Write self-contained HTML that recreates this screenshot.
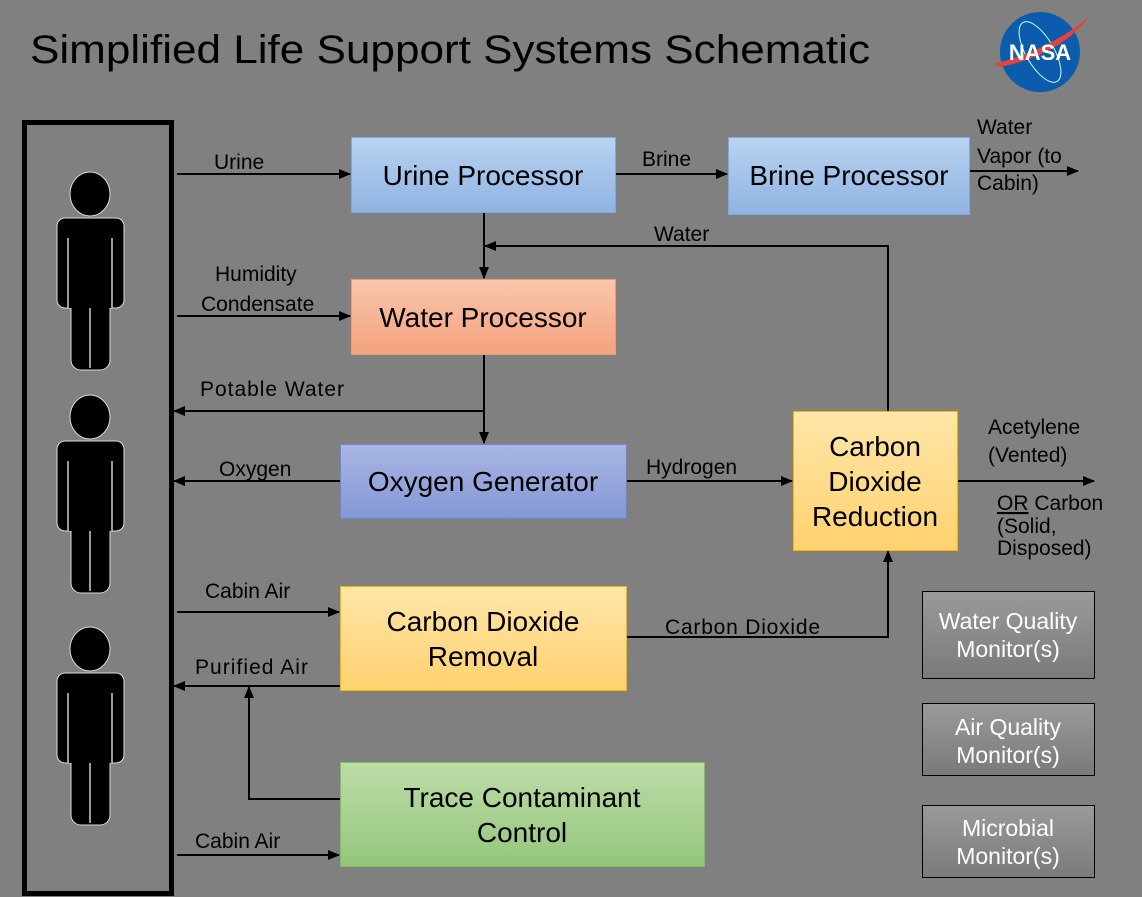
<!DOCTYPE html>
<html><head><meta charset="utf-8"><style>
html,body{margin:0;padding:0;background:#808080;}
svg{display:block}
.l{font-family:"Liberation Sans",sans-serif;font-size:21px;fill:#000}
.b{font-family:"Liberation Sans",sans-serif;font-size:28px;fill:#000;text-anchor:middle}
.m{font-family:"Liberation Sans",sans-serif;font-size:23px;fill:#fff;text-anchor:middle}
</style></head><body>
<svg width="1142" height="897" viewBox="0 0 1142 897" xmlns="http://www.w3.org/2000/svg">
<defs>
<linearGradient id="gb" x1="0" y1="0" x2="0" y2="1"><stop offset="0" stop-color="#b9d3f0"/><stop offset="1" stop-color="#8fb3e2"/></linearGradient>
<linearGradient id="go" x1="0" y1="0" x2="0" y2="1"><stop offset="0" stop-color="#f9c6ac"/><stop offset="1" stop-color="#f4a27e"/></linearGradient>
<linearGradient id="gp" x1="0" y1="0" x2="0" y2="1"><stop offset="0" stop-color="#a9b6e3"/><stop offset="1" stop-color="#8497d6"/></linearGradient>
<linearGradient id="gy" x1="0" y1="0" x2="0" y2="1"><stop offset="0" stop-color="#ffe6a8"/><stop offset="1" stop-color="#ffd170"/></linearGradient>
<linearGradient id="gg" x1="0" y1="0" x2="0" y2="1"><stop offset="0" stop-color="#bcdca8"/><stop offset="1" stop-color="#95c67b"/></linearGradient>
<linearGradient id="gm" x1="0" y1="0" x2="0" y2="1"><stop offset="0" stop-color="#9a9a9a"/><stop offset="1" stop-color="#7a7a7a"/></linearGradient>
<marker id="a" markerWidth="12" markerHeight="10" refX="11" refY="5" orient="auto" markerUnits="userSpaceOnUse"><path d="M0,0 L12,5 L0,10 Z" fill="#000"/></marker>
<g id="p">
<ellipse cx="90" cy="194" rx="20" ry="22" fill="#000" stroke="#ddd" stroke-width="1"/>
<rect x="57" y="218" width="67" height="90" rx="8" fill="#000" stroke="#ddd" stroke-width="1"/>
<rect x="71" y="290" width="39" height="80" rx="10" fill="#000" stroke="#ddd" stroke-width="1"/>
<rect x="68" y="238" width="44" height="70" fill="#000"/>
<line x1="68" y1="238" x2="68" y2="308" stroke="#ccc" stroke-width="1.5"/>
<line x1="112" y1="238" x2="112" y2="308" stroke="#ccc" stroke-width="1.5"/>
<line x1="90" y1="308" x2="90" y2="368" stroke="#ccc" stroke-width="1.5"/>
</g>
</defs>
<text x="30" y="63" font-family="Liberation Sans,sans-serif" font-size="40" fill="#000" textLength="840" lengthAdjust="spacingAndGlyphs">Simplified Life Support Systems Schematic</text>
<!-- NASA -->
<circle cx="1040" cy="52" r="40" fill="#0b5cad"/>
<ellipse cx="1040" cy="52" rx="14" ry="34" fill="none" stroke="#cfe" stroke-width="1" transform="rotate(-30 1040 52)"/>
<path d="M994,64 Q1050,50 1090,16 Q1060,55 1000,67 Z" fill="#e8413c"/>
<text x="1040" y="60" font-family="Liberation Sans,sans-serif" font-weight="bold" font-size="22" fill="#fff" text-anchor="middle">NASA</text>

<rect x="24.5" y="122.5" width="147" height="771" fill="none" stroke="#000" stroke-width="5"/>
<use href="#p"/>
<use href="#p" transform="translate(0,223)"/>
<use href="#p" transform="translate(0,455)"/>

<g stroke="#000" stroke-width="2" fill="none">
<line x1="177" y1="174" x2="350" y2="174" marker-end="url(#a)"/>
<line x1="616" y1="174" x2="727" y2="174" marker-end="url(#a)"/>
<line x1="970" y1="171" x2="1078" y2="171" marker-end="url(#a)"/>
<line x1="484" y1="213" x2="484" y2="278" marker-end="url(#a)"/>
<polyline points="888,411 888,246 485,246" marker-end="url(#a)"/>
<line x1="177" y1="316" x2="350" y2="316" marker-end="url(#a)"/>
<line x1="484" y1="355" x2="484" y2="443" marker-end="url(#a)"/>
<line x1="484" y1="411" x2="174" y2="411" marker-end="url(#a)"/>
<line x1="340" y1="481" x2="174" y2="481" marker-end="url(#a)"/>
<line x1="627" y1="481" x2="792" y2="481" marker-end="url(#a)"/>
<line x1="958" y1="481" x2="1094" y2="481" marker-end="url(#a)"/>
<line x1="177" y1="612" x2="339" y2="612" marker-end="url(#a)"/>
<polyline points="627,637 888,637 888,551" marker-end="url(#a)"/>
<line x1="340" y1="686" x2="174" y2="686" marker-end="url(#a)"/>
<polyline points="340,799 249,799 249,687" marker-end="url(#a)"/>
<line x1="177" y1="855" x2="339" y2="855" marker-end="url(#a)"/>
</g>

<rect x="351.5" y="137.5" width="264" height="75" fill="url(#gb)" stroke="#7fa8dc"/>
<text class="b" x="483" y="185">Urine Processor</text>
<rect x="728.5" y="137.5" width="241" height="77" fill="url(#gb)" stroke="#7fa8dc"/>
<text class="b" x="849" y="185">Brine Processor</text>
<rect x="351.5" y="279.5" width="264" height="75" fill="url(#go)" stroke="#ef9a70"/>
<text class="b" x="483" y="327">Water Processor</text>
<rect x="340.5" y="444.5" width="286" height="74" fill="url(#gp)" stroke="#6f84cc"/>
<text class="b" x="483" y="491">Oxygen Generator</text>
<rect x="793.5" y="411.5" width="164" height="139" fill="url(#gy)" stroke="#f5b800"/>
<text class="b" x="875" y="456">Carbon</text>
<text class="b" x="875" y="491">Dioxide</text>
<text class="b" x="875" y="526">Reduction</text>
<rect x="340.5" y="586.5" width="286" height="104" fill="url(#gy)" stroke="#f5b800"/>
<text class="b" x="483" y="631">Carbon Dioxide</text>
<text class="b" x="483" y="666">Removal</text>
<rect x="340.5" y="762.5" width="364" height="104" fill="url(#gg)" stroke="#7fbf60"/>
<text class="b" x="522" y="807">Trace Contaminant</text>
<text class="b" x="522" y="842">Control</text>

<rect x="922.5" y="591.5" width="172" height="87" fill="url(#gm)" stroke="#000"/>
<text class="m" x="1008" y="629">Water Quality</text>
<text class="m" x="1008" y="657">Monitor(s)</text>
<rect x="922.5" y="703.5" width="172" height="72" fill="url(#gm)" stroke="#000"/>
<text class="m" x="1008" y="735">Air Quality</text>
<text class="m" x="1008" y="763">Monitor(s)</text>
<rect x="922.5" y="805.5" width="172" height="72" fill="url(#gm)" stroke="#000"/>
<text class="m" x="1008" y="836">Microbial</text>
<text class="m" x="1008" y="864">Monitor(s)</text>

<text class="l" x="214" y="169">Urine</text>
<text class="l" x="642" y="166">Brine</text>
<text class="l" x="977" y="134">Water</text>
<text class="l" x="977" y="163">Vapor (to</text>
<text class="l" x="977" y="190">Cabin)</text>
<text class="l" x="654" y="241">Water</text>
<text class="l" x="215" y="281">Humidity</text>
<text class="l" x="201" y="311">Condensate</text>
<text class="l" x="200" y="396" textLength="144">Potable Water</text>
<text class="l" x="219" y="476">Oxygen</text>
<text class="l" x="646" y="474">Hydrogen</text>
<text class="l" x="988" y="434">Acetylene</text>
<text class="l" x="988" y="462">(Vented)</text>
<text class="l" x="997" y="510"><tspan text-decoration="underline">OR</tspan> Carbon</text>
<text class="l" x="997" y="533">(Solid,</text>
<text class="l" x="997" y="555">Disposed)</text>
<text class="l" x="205" y="598">Cabin Air</text>
<text class="l" x="665" y="634" textLength="155">Carbon Dioxide</text>
<text class="l" x="195" y="674" textLength="113">Purified Air</text>
<text class="l" x="195" y="848">Cabin Air</text>
</svg>
</body></html>
